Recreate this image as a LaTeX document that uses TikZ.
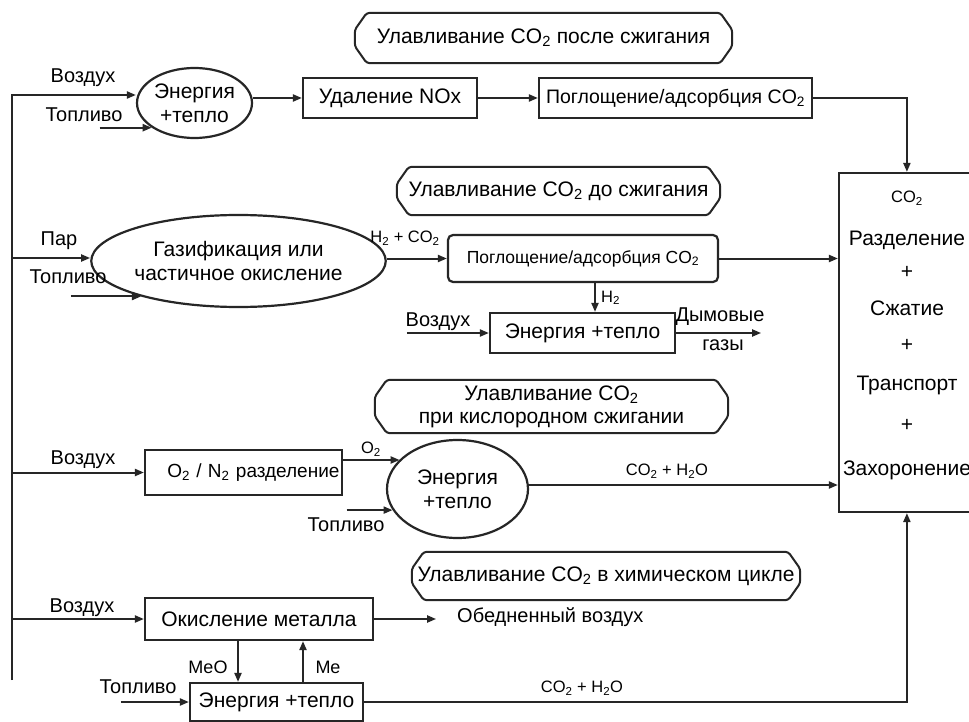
\documentclass[tikz,border=0pt]{standalone}
\usepackage{fontspec}
\setmainfont{Liberation Sans}
\usetikzlibrary{shapes.geometric,arrows.meta}
\newcommand\fsz[2]{\fontsize{#1}{#2}\selectfont}
\newcommand\chamf[1]{%
  \draw[labline] ([xshift=12pt]#1.north west) -- ([xshift=-12pt]#1.north east)
    -- ([yshift=-17pt]#1.north east) -- ([yshift=17pt]#1.south east)
    -- ([xshift=-12pt]#1.south east) -- ([xshift=12pt]#1.south west)
    -- ([yshift=17pt]#1.south west) -- ([yshift=-17pt]#1.north west) -- cycle;}
\begin{document}
\begin{tikzpicture}[x=1pt,y=-1pt,
  ln/.style={line width=2pt, draw=black!85},
  arr/.style={ln, -{Triangle[length=9pt,width=7pt]}},
  box/.style={draw=black!85, line width=2.2pt, inner sep=0pt, font=\fsz{21}{24}},
  ell/.style={ellipse, draw=black!85, line width=2.2pt, inner sep=0pt, align=center, font=\fsz{21}{24}},
  lab/.style={inner sep=0pt, align=center, font=\fsz{21}{23}},
  labline/.style={draw=black!85, line width=2pt, rounded corners=3pt},
  txt/.style={inner sep=0pt, font=\fsz{20}{23}},
  big/.style={inner sep=0pt, font=\fsz{21}{23}},
  sm/.style={inner sep=0pt, font=\fsz{16.5}{19}}]
\useasboundingbox (0,0) rectangle (969,722);
\fill[white] (0,0) rectangle (969,722);

% row 1
\node[ell, minimum width=115pt, minimum height=70pt] (E1) at (194.5,103) {Энергия\\+тепло};
\node[box, minimum width=174pt, minimum height=40pt] (NOX) at (390,98) {Удаление NOx};
\node[box, minimum width=273pt, minimum height=40pt, font=\fsz{19.5}{23}] (ABS1) at (675.5,98) {Поглощение/адсорбция CO\textsubscript{2}};
\node[lab, minimum width=377pt, minimum height=50pt] (L1) at (543.5,38) {Улавливание CO\textsubscript{2} после сжигания};
\chamf{L1}

% row 2
\node[ell, minimum width=257pt, minimum height=92pt] (E2) at (238.5,261) {Газификация или\\частичное окисление};
\node[lab, minimum width=323pt, minimum height=48pt] (L2) at (558.5,191) {Улавливание CO\textsubscript{2} до сжигания};
\chamf{L2}
\node[box, rounded corners=5pt, minimum width=270pt, minimum height=47pt, font=\fsz{17.5}{21}] (ABS2) at (583,258.5) {Поглощение/адсорбция CO\textsubscript{2}};
\node[box, minimum width=185pt, minimum height=40pt] (EN2) at (582.5,333) {Энергия +тепло};

% row 3
\node[lab, minimum width=353pt, minimum height=53pt] (L3) at (551.5,406.5) {Улавливание CO\textsubscript{2}\\при кислородном сжигании};
\chamf{L3}
\node[box, minimum width=197pt, minimum height=45pt, text width=192pt, align=right, font=\fsz{19}{23}] (OX) at (243.5,472.5) {O\textsubscript{2} / N\textsubscript{2} разделение};
\node[ell, minimum width=141pt, minimum height=98pt] (E3) at (457.5,489) {Энергия\\+тепло};

% row 4
\node[lab, minimum width=388pt, minimum height=48pt] (L4) at (606,576) {Улавливание CO\textsubscript{2} в химическом цикле};
\chamf{L4}
\node[box, minimum width=228pt, minimum height=42pt] (OXM) at (259,619) {Окисление металла};
\node[box, minimum width=173pt, minimum height=38pt] (EN4) at (276.5,702) {Энергия +тепло};

% big box
\node[box, minimum width=136pt, minimum height=339pt] (BIG) at (907,342.5) {};
\node[sm] (c1) at (907,198) {CO\textsubscript{2}};
\node[big] (c2) at (907,240) {Разделение};
\node[big] (c3) at (907,272) {+};
\node[big] (c4) at (907,308) {Сжатие};
\node[big] (c5) at (907,345) {+};
\node[big] (c6) at (907,385) {Транспорт};
\node[big] (c7) at (907,425) {+};
\node[big] (c8) at (907,470) {Захоронение};

% free labels
\node[txt] (t1) at (83,78) {Воздух};
\node[txt] (t2) at (84,115) {Топливо};
\node[txt] (t3) at (59,241) {Пар};
\node[txt] (t4) at (68,277) {Топливо};
\node[sm] (t5) at (405,238) {H\textsubscript{2} + CO\textsubscript{2}};
\node[sm, anchor=west] (t6) at (601,298) {H\textsubscript{2}};
\node[txt] (t7) at (438,322) {Воздух};
\node[txt] (t8) at (720,317) {Дымовые};
\node[txt] (t9) at (723,345) {газы};
\node[txt] (t10) at (83,460) {Воздух};
\node[sm] (t11) at (371,449) {O\textsubscript{2}};
\node[txt] (t12) at (346,525) {Топливо};
\node[sm] (t13) at (667,471) {CO\textsubscript{2} + H\textsubscript{2}O};
\node[txt] (t14) at (82,608) {Воздух};
\node[txt, anchor=west] (t15) at (457,617) {Обедненный воздух};
\node[sm, font=\fsz{18}{20}] (t16) at (208,667) {MeO};
\node[sm, font=\fsz{18}{20}] (t17) at (328,667) {Me};
\node[txt] (t18) at (138,687) {Топливо};
\node[sm] (t19) at (582,688) {CO\textsubscript{2} + H\textsubscript{2}O};

% bus and branches
\coordinate (bb) at (12,680);
\coordinate (b2) at (12,258);
\coordinate (b3) at (12,472.5);
\coordinate (b4) at (12,619);
\draw[arr] (bb) |- ([yshift=8pt]E1.west);
\draw[arr] (b2) -- (b2 -| E2.west);
\draw[arr] (b3) -- (OX.west);
\draw[arr] (b4) -- (OXM.west);

% row 1 connectors
\draw[arr] ([xshift=-52pt]E1.210) -- (E1.210);
\draw[arr] (NOX.west -| E1.east) -- (NOX.west);
\draw[arr] (NOX.east) -- (ABS1.west);
\draw[arr] (ABS1.east) -| ([xshift=69pt]BIG.north west);

% row 2 connectors
\draw[arr] ([xshift=-70pt]E2.200) -- (E2.200);
\draw[arr] (ABS2.west -| E2.east) -- (ABS2.west);
\draw[arr] (ABS2.east) -- (ABS2.east -| BIG.west);
\draw[arr] ([xshift=12pt]ABS2.south) -- ([xshift=12pt]ABS2.south |- EN2.north);
\draw[arr] ([xshift=-82pt]EN2.west) -- (EN2.west);
\draw[arr] (EN2.east) -- ([xshift=85pt]EN2.east);

% row 3 connectors
\draw[arr] ([yshift=12.5pt]OX.east) -- ([yshift=12.5pt]OX.east -| E3.153);
\draw[arr] ([xshift=-46pt]E3.198) -- (E3.198);
\draw[arr] ([yshift=4pt]E3.east) -- ([yshift=4pt]E3.east -| BIG.west);

% row 4 connectors
\draw[arr] (OXM.east) -- ([xshift=62pt]OXM.east);
\draw[arr] ([xshift=-21pt]OXM.south) -- ([xshift=-21pt]OXM.south |- EN4.north);
\draw[arr] ([xshift=44pt]OXM.south |- EN4.north) -- ([xshift=44pt]OXM.south);
\draw[arr] ([xshift=-68pt]EN4.west) -- (EN4.west);
\draw[arr] (EN4.east) -| ([xshift=69pt]BIG.south west);
\end{tikzpicture}
\end{document}
